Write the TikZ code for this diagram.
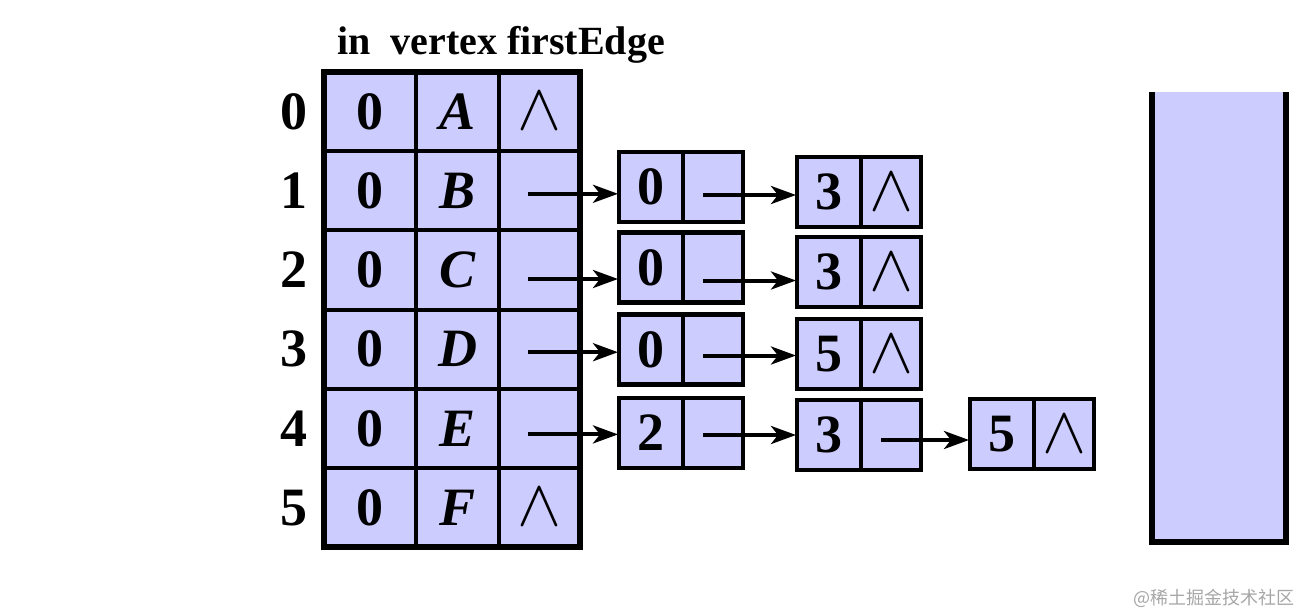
\documentclass[tikz,border=0pt]{standalone}
\usepackage{fontspec}
\setmainfont{Liberation Serif}
\newfontfamily\cjk{Noto Sans CJK SC}
\usetikzlibrary{arrows.meta}

\definecolor{cellblue}{HTML}{CCCCFF}
\newcommand{\nilsym}{\scalebox{6.6}{\normalsize$\wedge$}}

\begin{document}
\begin{tikzpicture}[x=1pt,y=-1pt,
  cell/.style={draw,line width=4.5pt,fill=cellblue,outer sep=0pt,inner sep=0pt,
    minimum width=64pt,minimum height=70pt,font=\fontsize{54}{54}\selectfont\bfseries},
  lbl/.style={font=\fontsize{54}{54}\selectfont\bfseries},
  link/.style={line width=4pt,shorten >=1pt,-{Stealth[length=25pt,width=18pt,inset=7pt]}}]
\useasboundingbox (0,0) rectangle (1299,614);
%
\node[font=\fontsize{40}{40}\selectfont\bfseries,anchor=base] (head) at (501,54) {in\ \ vertex firstEdge};

% table
\foreach \v/\f [count=\i from 0] in {A/\nilsym,B/{},C/{},D/{},E/{},F/\nilsym} {
\pgfmathsetmacro\yy{111.6+79.2*\i}
\node[lbl] (row\i) at (294,\yy) {\i};
\node[cell,line width=4pt,minimum width=92pt,minimum height=79.2pt] (in\i) at (370,\yy) {0};
\node[cell,line width=4pt,minimum width=83pt,minimum height=79.2pt] (vx\i) at (457.5,\yy) {\textit{\v}};
\node[cell,line width=4pt,minimum width=81pt,minimum height=79.2pt] (fe\i) at (539.5,\yy) {\f};
}
\draw[line width=5.5pt] (in0.north west) rectangle (fe5.south east);

% edge nodes
\foreach \n/\x/\y/\a/\b in {e1/651/187/0/{},f1/829/192/3/\nilsym,
  e2/651/267.5/0/{},f2/829/272/3/\nilsym,
  e3/651/349.5/0/{},f3/829/354/5/\nilsym,
  e4/651/433/2/{},f4/829/435/3/{},g4/1002/434/5/\nilsym} {
\node[cell] (\n-a) at (\x,\y) {\a};
\node[cell,minimum width=60pt,anchor=west] (\n-b) at (\n-a.east) {\b};
}

% links
\foreach \i/\t/\dy in {1/e1/3,2/e2/9,3/e3/3,4/e4/6} {
\coordinate (s\i) at ([shift={(-11.5,\dy)}]fe\i.center);
\draw[link] (s\i) -- (s\i -| \t-a.west);
}
\foreach \u/\t/\dy in {e1/f1/8,e2/f2/13,e3/f3/6,e4/f4/2,f4/g4/5} {
\coordinate (s\u) at ([shift={(-10,\dy)}]\u-b.center);
\draw[link] (s\u) -- (s\u -| \t-a.west);
}

% stack
\fill[cellblue] (1152,92) rectangle (1286,542);
\draw[line width=6pt] (1152,92) -- (1152,542) -- (1286,542) -- (1286,92);

\node[font=\cjk\fontsize{18}{18}\selectfont,text=black!35] (mark) at (1214,598) {@稀土掘金技术社区};
\end{tikzpicture}
\end{document}
